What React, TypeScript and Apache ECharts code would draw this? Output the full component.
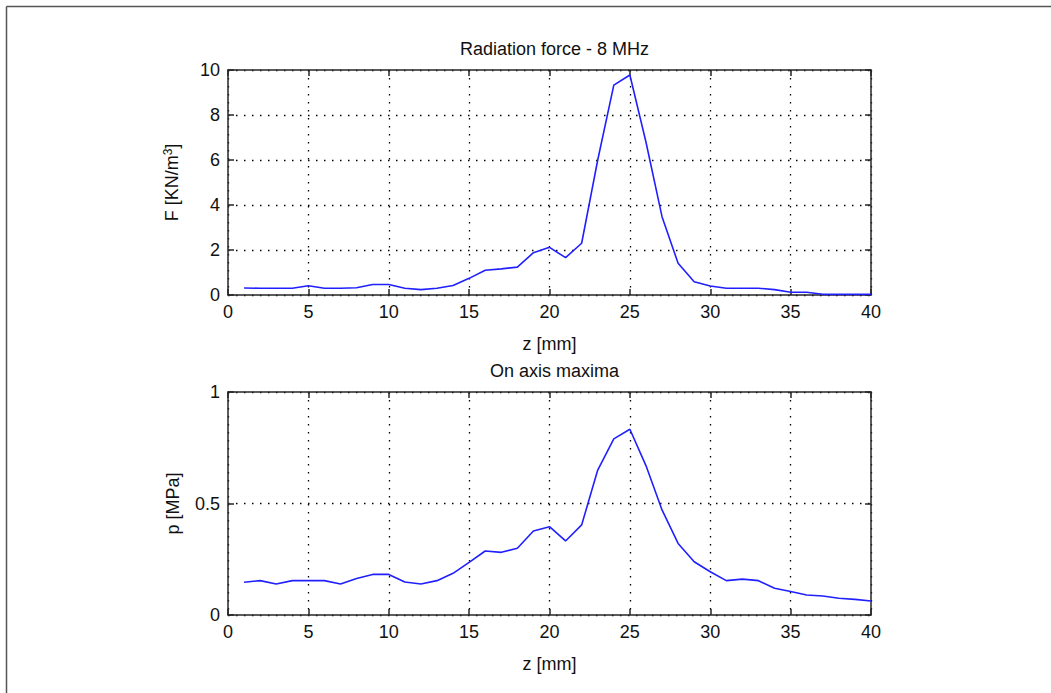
import React, { useEffect, useRef } from "react";
import * as echarts from "echarts";

const zValues = [1, 2, 3, 4, 5, 6, 7, 8, 9, 10, 11, 12, 13, 14, 15, 16, 17, 18, 19, 20,
  21, 22, 23, 24, 25, 26, 27, 28, 29, 30, 31, 32, 33, 34, 35, 36, 37, 38, 39, 40];

const forceValues = [0.31, 0.30, 0.30, 0.30, 0.41, 0.30, 0.30, 0.32, 0.47, 0.47,
  0.30, 0.24, 0.30, 0.42, 0.74, 1.10, 1.16, 1.24, 1.88, 2.12,
  1.66, 2.30, 6.0, 9.33, 9.78, 6.8, 3.48, 1.41, 0.59, 0.40,
  0.30, 0.30, 0.30, 0.24, 0.12, 0.12, 0.03, 0.03, 0.03, 0.03];

const pressureValues = [0.147, 0.154, 0.139, 0.154, 0.154, 0.154, 0.139, 0.164, 0.182, 0.182,
  0.148, 0.139, 0.154, 0.187, 0.236, 0.287, 0.281, 0.299, 0.377, 0.396,
  0.332, 0.404, 0.65, 0.79, 0.833, 0.67, 0.471, 0.321, 0.239, 0.194,
  0.154, 0.161, 0.154, 0.12, 0.105, 0.09, 0.085, 0.075, 0.07, 0.063];

const topTitle = "Radiation force - 8 MHz";
const bottomTitle = "On axis maxima";
const xName = "z [mm]";
const topYName = "F [KN/m{sup|3}]";
const bottomYName = "p [MPa]";

const FONT = "Liberation Sans, Arial, sans-serif";
const FS = 18;
const AX = "#262626";

function xAxes(grid: number) {
  const common = {
    gridIndex: grid,
    type: "value" as const,
    min: 0,
    max: 40,
    interval: 5,
    axisLine: { show: true, onZero: false, lineStyle: { color: AX, width: 1.5 } },
    axisTick: { show: true, inside: true, length: 6, lineStyle: { color: AX, width: 1.5 } },
  };
  return [
    {
      ...common,
      position: "bottom" as const,
      name: xName,
      nameLocation: "middle" as const,
      nameGap: 40,
      nameTextStyle: { fontFamily: FONT, fontSize: FS, color: "#111" },
      axisLabel: { fontFamily: FONT, fontSize: FS, color: "#111", margin: 8 },
      splitLine: { show: true, lineStyle: { color: "#000", width: 1.3, type: [1.5, 6.5] } },
    },
    {
      ...common,
      position: "top" as const,
      axisLabel: { show: false },
      splitLine: { show: false },
    },
  ];
}

function yAxes(grid: number, max: number, interval: number, name: string, fmt?: (v: number) => string) {
  const common = {
    gridIndex: grid,
    type: "value" as const,
    min: 0,
    max,
    interval,
    axisLine: { show: true, onZero: false, lineStyle: { color: AX, width: 1.5 } },
    axisTick: { show: true, inside: true, length: 6, lineStyle: { color: AX, width: 1.5 } },
  };
  return [
    {
      ...common,
      position: "left" as const,
      name,
      nameLocation: "middle" as const,
      nameGap: 46,
      nameRotate: 90,
      nameTextStyle: {
        fontFamily: FONT,
        fontSize: FS,
        color: "#111",
        rich: { sup: { fontFamily: FONT, fontSize: 12, color: "#111", verticalAlign: "top", padding: [0, 0, 8, 0] } },
      },
      axisLabel: { fontFamily: FONT, fontSize: FS, color: "#111", margin: 8, formatter: fmt },
      splitLine: { show: true, lineStyle: { color: "#000", width: 1.3, type: [1.5, 6.5] } },
    },
    {
      ...common,
      position: "right" as const,
      axisLabel: { show: false },
      splitLine: { show: false },
    },
  ];
}

export default function App() {
  const ref = useRef<HTMLDivElement>(null);
  useEffect(() => {
    if (!ref.current) return;
    const chart = echarts.init(ref.current, null, { renderer: "svg" });
    const forceData = zValues.map((z, i) => [z, forceValues[i]]);
    const pressData = zValues.map((z, i) => [z, pressureValues[i]]);
    chart.setOption({
      animation: false,
      backgroundColor: "#fff",
      title: [
        { text: topTitle, left: 549.5, top: 35, textAlign: "center", textStyle: { fontFamily: FONT, fontSize: FS, fontWeight: "normal", color: "#111" } },
        { text: bottomTitle, left: 549.5, top: 357, textAlign: "center", textStyle: { fontFamily: FONT, fontSize: FS, fontWeight: "normal", color: "#111" } },
      ],
      grid: [
        { left: 228, top: 70, width: 643, height: 225 },
        { left: 228, top: 392, width: 643, height: 223 },
      ],
      xAxis: [...xAxes(0), ...xAxes(1)],
      yAxis: [
        ...yAxes(0, 10, 2, topYName),
        ...yAxes(1, 1, 0.5, bottomYName, (v: number) => (v === 0 ? "0" : v === 1 ? "1" : String(v))),
      ],
      series: [
        {
          type: "line",
          xAxisIndex: 0,
          yAxisIndex: 0,
          data: forceData,
          showSymbol: false,
          lineStyle: { color: "#2020ff", width: 1.6 },
        },
        {
          type: "line",
          xAxisIndex: 2,
          yAxisIndex: 2,
          data: pressData,
          showSymbol: false,
          lineStyle: { color: "#2020ff", width: 1.6 },
        },
      ],
      graphic: [
        { type: "line", shape: { x1: 6.5, y1: 6.5, x2: 1051, y2: 6.5 }, style: { stroke: "#555", lineWidth: 1.5 } },
        { type: "line", shape: { x1: 6.5, y1: 6.5, x2: 6.5, y2: 693 }, style: { stroke: "#555", lineWidth: 1.5 } },
      ],
    });
    return () => chart.dispose();
  }, []);
  return (
    <div
      ref={ref}
      style={{ position: "fixed", left: 0, top: 0, width: 1051, height: 693, background: "#fff" }}
    />
  );
}
